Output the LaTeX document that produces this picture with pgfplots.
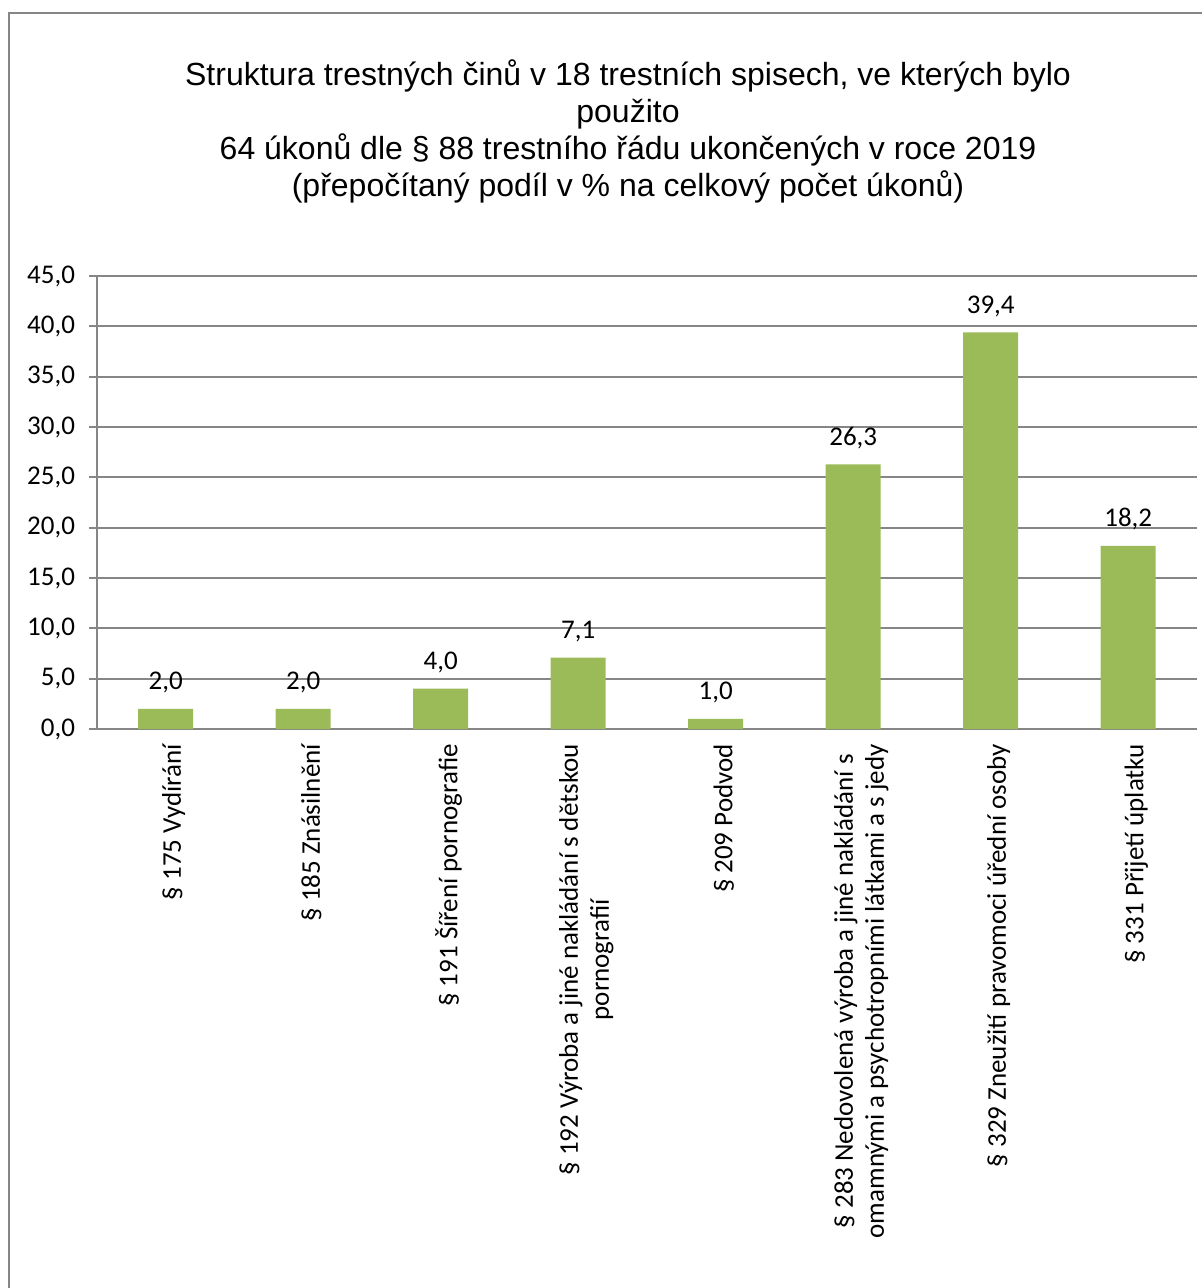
\documentclass[border=0pt]{standalone}
\usepackage{fontspec}
\setmainfont{Carlito}
\newfontfamily\titlefont{Liberation Sans}
\usepackage{pgfplots}
\pgfplotsset{compat=1.18}
\definecolor{bargreen}{HTML}{9BBB59}
\definecolor{gridgray}{HTML}{868686}
\begin{document}
\begin{tikzpicture}
\useasboundingbox (0,0) rectangle (601bp,-644bp);
\draw[gridgray, line width=1bp] (4.4bp,-650bp) -- (4.4bp,-6.4bp) -- (610bp,-6.4bp);
\node[align=center, font=\titlefont\fontsize{16bp}{18.5bp}\selectfont] at (314bp,-65.5bp)
  {Struktura trestných činů v 18 trestních spisech, ve kterých bylo\\ použito\\
   64 úkonů dle § 88 trestního řádu ukončených v roce 2019\\
   (přepočítaný podíl v \% na celkový počet úkonů)};
\begin{axis}[
  at={(48.5bp,-364.5bp)}, anchor=south west,
  scale only axis, width=550bp, height=226.5bp,
  ybar, bar width=27.5bp,
  xmin=-0.5, xmax=7.5, ymin=0, ymax=45,
  ytick={0,5,...,45},
  xtick={0,...,7},
  minor xtick={-0.5,0.5,...,7.5},
  xticklabels={{§ 175 Vydírání},{§ 185 Znásilnění},{§ 191 Šíření pornografie},{§ 192 Výroba a jiné nakládání s dětskou\\pornografií},{§ 209 Podvod},{§ 283 Nedovolená výroba a jiné nakládání s\\omamnými a psychotropními látkami a s jedy},{§ 329 Zneužití pravomoci úřední osoby},{§ 331 Přijetí úplatku}},
  axis x line*=bottom, axis y line*=left,
  axis line style={gridgray, line width=0.9bp},
  ymajorgrids, grid style={gridgray, line width=0.9bp},
  tick align=outside,
  major tick length=4bp, minor tick length=4bp,
  xtick style={draw=none},
  minor x tick style={gridgray, line width=0.9bp},
  ytick style={gridgray, line width=0.9bp},
  /pgf/number format/fixed, /pgf/number format/fixed zerofill,
  /pgf/number format/precision=1, /pgf/number format/use comma,
  /pgf/number format/assume math mode=true,
  ticklabel style={font=\fontsize{13.5bp}{15.5bp}\selectfont, text=black},
  yticklabel style={anchor=east, xshift=-3.5bp},
  xticklabel style={rotate=90, anchor=east, align=center, yshift=-4bp},
  nodes near coords,
  every node near coord/.append style={font=\fontsize{13.5bp}{15bp}\selectfont, anchor=base, yshift=9.5bp, text=black},
  clip=false,
]
\addplot[fill=bargreen, draw=none] coordinates {(0,2.0) (1,2.0) (2,4.0) (3,7.1) (4,1.0) (5,26.3) (6,39.4) (7,18.2)};
\end{axis}
\end{tikzpicture}
\end{document}
